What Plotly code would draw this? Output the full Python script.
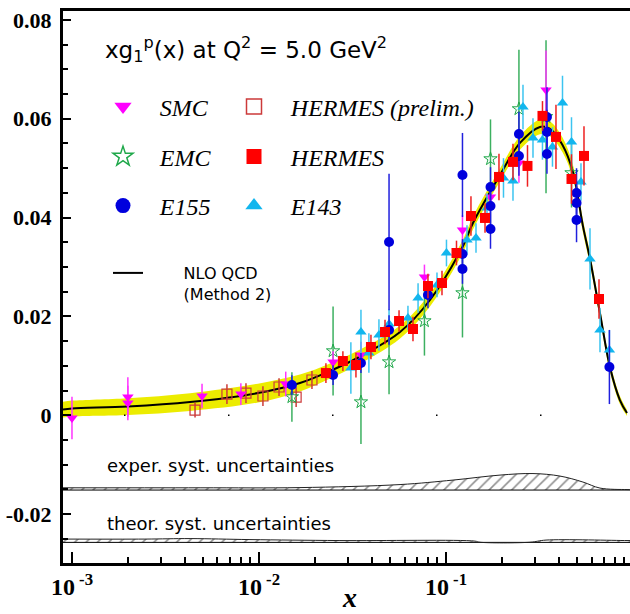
import plotly.graph_objects as go

# ---------------- data ----------------
smc_x = [0.00100, 0.00199, 0.00199, 0.00496, 0.0080, 0.0139, 0.0249, 0.0351, 0.0767, 0.1225, 0.1730, 0.2455, 0.3427]
smc_y = [-0.00057, 0.00368, 0.00247, 0.00389, 0.00429, 0.00632, 0.01077, 0.01219, 0.02798, 0.03749, 0.04417, 0.05105, 0.06583]
smc_err = [0.0043, 0.0040, 0.0035, 0.0025, 0.0022, 0.0025, 0.0022, 0.0027, 0.0025, 0.0030, 0.0027, 0.0040, 0.0080]

emc_x = [0.0150, 0.0249, 0.0351, 0.0496, 0.0767, 0.1225, 0.1730, 0.2455, 0.3427, 0.469]
emc_y = [0.0037, 0.0130, 0.00267, 0.01077, 0.01907, 0.02474, 0.05186, 0.06198, 0.0604, 0.04903]
emc_err = [0.0050, 0.0090, 0.0085, 0.0065, 0.0070, 0.0090, 0.0080, 0.0120, 0.0155, 0.0070]

e155_x = [0.0150, 0.0249, 0.0351, 0.0496, 0.0496, 0.0801, 0.1225, 0.1225, 0.1225, 0.1730, 0.1730, 0.1730,
          0.2455, 0.2455, 0.3467, 0.3467, 0.3467, 0.499, 0.499, 0.499, 0.748]
e155_y = [0.00611, 0.00814, 0.01057, 0.03506, 0.01725, 0.02433, 0.04862, 0.03263, 0.02960, 0.04619, 0.04235, 0.03769,
          0.05692, 0.05247, 0.06036, 0.05733, 0.05287, 0.04498, 0.04296, 0.03951, 0.00976]
e155_err = [0.0020, 0.0020, 0.0020, 0.0138, 0.0030, 0.0027, 0.0085, 0.0030, 0.0030, 0.0040, 0.0040, 0.0040,
            0.0045, 0.0040, 0.0060, 0.0045, 0.0040, 0.0050, 0.0045, 0.0045, 0.0075]

e143_x = [0.0310, 0.0351, 0.0387, 0.0438, 0.0496, 0.0626, 0.0709, 0.0895, 0.1006, 0.1295, 0.1447, 0.1657,
          0.2030, 0.2282, 0.2581, 0.2919, 0.3281, 0.3711, 0.4198, 0.469, 0.527, 0.589, 0.666, 0.748]
e143_y = [0.00955, 0.01684, 0.01259, 0.01623, 0.01846, 0.01968, 0.02372, 0.02636, 0.03283, 0.03547, 0.03587, 0.04194,
          0.04802, 0.04741, 0.06239, 0.05611, 0.05571, 0.05429, 0.06320, 0.05530, 0.04721, 0.03162, 0.01725, 0.01320]
e143_err = [0.0052, 0.0045, 0.0040, 0.0032, 0.0030, 0.0025, 0.0030, 0.0025, 0.0027, 0.0030, 0.0030, 0.0030,
            0.0040, 0.0040, 0.0045, 0.0040, 0.0040, 0.0040, 0.0055, 0.0050, 0.0038, 0.0062, 0.0045, 0.0040]

hermes_x = [0.0228, 0.0281, 0.0330, 0.0397, 0.0472, 0.0561, 0.0666, 0.0801, 0.0952, 0.1138, 0.1360, 0.1617,
            0.1920, 0.2282, 0.2728, 0.3281, 0.3874, 0.469, 0.547, 0.658]
hermes_y = [0.00854, 0.01097, 0.01016, 0.01381, 0.01684, 0.01907, 0.01745, 0.02615, 0.02676, 0.03283, 0.04032, 0.03992,
            0.04822, 0.05126, 0.05045, 0.06057, 0.05632, 0.04781, 0.05247, 0.02352]
hermes_err = [0.0020, 0.0020, 0.0025, 0.0025, 0.0025, 0.0022, 0.0025, 0.0025, 0.0025, 0.0025, 0.0040, 0.0030,
              0.0047, 0.0037, 0.0042, 0.0030, 0.0065, 0.0050, 0.0060, 0.0040]

hprel_x = [0.00455, 0.00674, 0.00852, 0.0105, 0.0128, 0.0158, 0.0192]
hprel_y = [0.00105, 0.00429, 0.00449, 0.00389, 0.00571, 0.00368, 0.00713]
hprel_err = [0.0015, 0.0020, 0.0020, 0.0020, 0.0018, 0.0020, 0.0018]

# NLO QCD curve and its uncertainty band half-width
nlo_x = [0.000895, 0.00100, 0.00199, 0.00428, 0.00988, 0.01656, 0.0240, 0.0360, 0.0568, 0.0821, 0.1225, 0.1394,
         0.1945, 0.2487, 0.3181, 0.360, 0.4198, 0.4775, 0.540, 0.589, 0.666, 0.753, 0.851, 0.929]
nlo_y = [0.00115, 0.00136, 0.00176, 0.00267, 0.00449, 0.00652, 0.00895, 0.01219, 0.01684, 0.02332, 0.03405, 0.03891,
         0.04862, 0.05510, 0.05834, 0.05794, 0.05470, 0.04923, 0.03826, 0.03162, 0.02065, 0.00976, 0.00308, 0.00045]
nlo_band = [0.0016, 0.0016, 0.0017, 0.0018, 0.0019, 0.0017, 0.0015, 0.0014, 0.0013, 0.0013, 0.0013, 0.0013,
            0.0013, 0.0014, 0.0015, 0.0015, 0.0015, 0.0014, 0.0013, 0.0012, 0.0011, 0.0010, 0.0008, 0.0006]

# systematic uncertainty bands
exper_x = [0.000895, 0.00484, 0.01656, 0.0568, 0.109, 0.1945, 0.2919, 0.407, 0.540, 0.666, 0.929, 1.0]
exper_top = [-0.01468, -0.01468, -0.01464, -0.01403, -0.01312, -0.01211, -0.01180, -0.01231, -0.01352, -0.01474,
             -0.01504, -0.01504]
exper_base = [-0.01514] * len(exper_x)

theor_x = [0.000895, 0.002455, 0.00428, 0.00895, 0.0271, 0.1429, 0.152, 0.281, 0.3427, 0.929, 1.0]
theor_top = [-0.02506, -0.02506, -0.02496, -0.02516, -0.02536, -0.02547, -0.02570, -0.02570, -0.02526, -0.02536,
             -0.02536]
theor_base = [-0.02573] * len(theor_x)

x_tickvals = [0.001, 0.01, 0.1]
x_ticktext = ["10<sup> -3</sup>", "10<sup> -2</sup>", "10<sup> -1</sup>"]
y_tickvals = [-0.02, 0, 0.02, 0.04, 0.06, 0.08]
y_ticktext = ["-0.02", "0", "0.02", "0.04", "0.06", "0.08"]

# ---------------- figure ----------------
W, H = 630, 614
PX0, PX1, PY0, PY1 = 63, 630, 11, 563          # plot frame in window pixels
ML, MR, MT, MB = PX0, W - PX1, PY0, H - PY1
PW, PH = PX1 - PX0, PY1 - PY0


def fx(px):
    return (px - PX0) / PW


def fy(py):
    return (PY1 - py) / PH


SERIF = "Liberation Serif"
SANS = "DejaVu Sans"

fig = go.Figure()

# yellow uncertainty band
nlo_lo = [y - b for y, b in zip(nlo_y, nlo_band)]
nlo_hi = [y + b for y, b in zip(nlo_y, nlo_band)]
fig.add_trace(go.Scatter(x=nlo_x, y=nlo_lo, mode="lines", line=dict(width=0, shape="spline"),
                         showlegend=False, hoverinfo="skip"))
fig.add_trace(go.Scatter(x=nlo_x, y=nlo_hi, mode="lines", line=dict(width=0, shape="spline"),
                         fill="tonexty", fillcolor="#ecec00", showlegend=False, hoverinfo="skip"))

# systematic bands (hatched)
for bx, base, top in [(exper_x, exper_base, exper_top), (theor_x, theor_base, theor_top)]:
    fig.add_trace(go.Scatter(x=bx, y=base, mode="lines", line=dict(color="black", width=1),
                             showlegend=False, hoverinfo="skip"))
    fig.add_trace(go.Scatter(x=bx, y=top, mode="lines", line=dict(color="#222222", width=1, shape="spline"),
                             fill="tonexty", fillcolor="white",
                             fillpattern=dict(shape="/", fgcolor="#222222", bgcolor="white", size=8, solidity=0.2),
                             showlegend=False, hoverinfo="skip"))

# NLO QCD curve
NLO_PAD = "\u00a0" * 7
fig.add_trace(go.Scatter(x=nlo_x, y=nlo_y, mode="lines",
                         name=NLO_PAD + "NLO QCD<br>" + NLO_PAD + "(Method 2)",
                         line=dict(color="black", width=2, shape="spline"), legend="legend7"))

NB = "\u00a0\u00a0\u2009"

series = [
    (hprel_x, hprel_y, hprel_err, "HERMES (prelim.)", "square-open", "#cc3a3a", "#cc3a3a", "legend4", 1.2),
    (emc_x, emc_y, emc_err, "EMC", "star-open", "#1fa84a", "#3cb060", "legend2", 1.0),
    (smc_x, smc_y, smc_err, "SMC", "triangle-down", "#ff00ff", "#ff33ff", "legend", 0),
    (e143_x, e143_y, e143_err, "E143", "triangle-up", "#12b6ee", "#3cc4f0", "legend6", 0),
    (e155_x, e155_y, e155_err, "E155", "circle", "#0000dd", "#2020dd", "legend3", 0),
    (hermes_x, hermes_y, hermes_err, "HERMES", "square", "#ff0000", "#ee2020", "legend5", 0),
]

for x, y, err, name, symbol, color, ecolor, legend, lw in series:
    fig.add_trace(go.Scatter(
        x=x, y=y, mode="markers", name=name, showlegend=False,
        marker=dict(symbol=symbol, size=10, color=color, line=dict(width=lw, color=color)),
        error_y=dict(type="data", array=err, visible=True, color=ecolor, thickness=1.5, width=0),
    ))
    # legend entry with the larger legend symbol
    fig.add_trace(go.Scatter(
        x=[None], y=[None], mode="markers", name=NB + name, legend=legend, showlegend=True,
        marker=dict(symbol=symbol, size=15, color=color, line=dict(width=1.5 if lw else 0, color=color)),
    ))

leg_font = dict(family=SERIF, size=24, style="italic", color="black")


def leg(px, py):
    return dict(x=fx(px - 25), y=fy(py), xanchor="left", yanchor="middle", bgcolor="rgba(0,0,0,0)",
                borderwidth=0, font=leg_font, itemsizing="trace", valign="middle")


fig.update_layout(
    width=W, height=H,
    margin=dict(l=ML, r=MR, t=MT, b=MB, autoexpand=False),
    paper_bgcolor="white", plot_bgcolor="white",
    legend=leg(128, 107),
    legend2=leg(128, 157),
    legend3=leg(128, 206),
    legend4=leg(259, 107),
    legend5=leg(259, 157),
    legend6=leg(259, 206),
    legend7=dict(x=fx(108), y=fy(256), xanchor="left", yanchor="top", bgcolor="rgba(0,0,0,0)",
                 font=dict(family=SANS, size=16, color="black"), valign="top"),
    xaxis=dict(
        type="log", range=[-3.048, -0.016],
        tickmode="array", tickvals=x_tickvals, ticktext=x_ticktext,
        ticks="inside", ticklen=11, tickwidth=1.5, tickcolor="black",
        tickfont=dict(family=SERIF, size=24, weight="bold", color="black"),
        ticklabeloverflow="allow",
        minor=dict(tickmode="array",
                   tickvals=[k * 10.0 ** e for e in range(-4, 1) for k in range(2, 10)],
                   ticks="inside", ticklen=6, tickwidth=1.5, tickcolor="black", showgrid=False),
        showline=True, linewidth=3, linecolor="black", mirror=True,
        showgrid=False, zeroline=False,
    ),
    yaxis=dict(
        range=[-0.0299, 0.0818],
        tickmode="array", tickvals=y_tickvals, ticktext=y_ticktext,
        ticks="inside", ticklen=8, tickwidth=1.5, tickcolor="black",
        tickfont=dict(family=SERIF, size=22, weight="bold", color="black"),
        ticklabelstandoff=4, ticklabeloverflow="allow",
        minor=dict(tickmode="linear", tick0=0, dtick=0.005, ticks="inside", ticklen=5, tickwidth=1.5,
                   tickcolor="black", showgrid=False),
        showline=True, linewidth=3, linecolor="black", mirror=False,
        showgrid=False, zeroline=False,
    ),
    showlegend=True,
)

# dotted zero reference line
fig.add_shape(type="line", xref="paper", yref="y", x0=fx(124), x1=1.0, y0=0, y1=0,
              line=dict(color="black", width=1.5, dash="1.5px,102.5px"))

fig.add_annotation(x=fx(246), y=fy(50), xref="paper", yref="paper", showarrow=False,
                   text="xg<sub>1</sub><sup>p</sup>(x) at Q<sup>2</sup> = 5.0 GeV<sup>2</sup>",
                   font=dict(family=SANS, size=23, color="black"), xanchor="center", yanchor="middle")
fig.add_annotation(x=fx(105), y=fy(465), xref="paper", yref="paper", showarrow=False,
                   text="exper. syst. uncertainties", font=dict(family=SANS, size=18, color="black"),
                   xanchor="left", yanchor="middle")
fig.add_annotation(x=fx(105), y=fy(523), xref="paper", yref="paper", showarrow=False,
                   text="theor. syst. uncertainties", font=dict(family=SANS, size=18, color="black"),
                   xanchor="left", yanchor="middle")
fig.add_annotation(x=fx(349), y=fy(597), xref="paper", yref="paper", showarrow=False,
                   text="<i>x</i>", font=dict(family=SERIF, size=28, weight="bold", color="black"),
                   xanchor="center", yanchor="middle")

# the page body's default margin would shift the figure; remove it so the plot sits at the window origin
fig.write_html("out.html", config={"displayModeBar": False},
               post_script="document.body.style.margin='0px';")
